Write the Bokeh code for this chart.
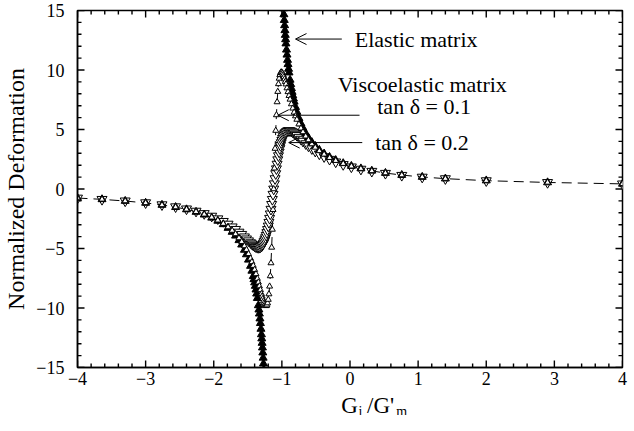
from bokeh.plotting import figure
from bokeh.models import FixedTicker, Label, Arrow, OpenHead
from bokeh.layouts import column
from bokeh.embed import file_html
from bokeh.resources import INLINE

# ---------------- data ----------------
x_ticks = [-4, -3, -2, -1, 0, 1, 2, 3, 4]
y_ticks = [-15, -10, -5, 0, 5, 10, 15]

# elastic matrix (filled triangles)
x_elastic = [-4.00, -3.64, -3.30, -3.00, -2.76, -2.56, -2.40, -2.26, -2.14, -2.03,
             -1.94, -1.86, -1.79, -1.73, -1.68, -1.63, -1.59, -1.55, -1.52, -1.49,
             -1.46, -1.44, -1.42, -1.41, -1.40, -1.39, -1.38, -1.37, -1.36, -1.345,
             -1.337, -1.33, -1.322, -1.315, -1.307, -1.30, -1.295, -1.29, -1.285, -1.28,
             -1.275, -1.27, -1.265, -1.26,
             -0.98, -0.975, -0.97, -0.965, -0.96, -0.955, -0.95, -0.945, -0.94, -0.932,
             -0.925, -0.917, -0.91, -0.902, -0.895, -0.88, -0.87, -0.86, -0.85, -0.84,
             -0.83, -0.82, -0.80, -0.78, -0.75, -0.72, -0.69, -0.65, -0.61, -0.56,
             -0.51, -0.45, -0.38, -0.30, -0.21, -0.10, 0.02, 0.16, 0.32, 0.52,
             0.76, 1.06, 1.40, 2.00, 2.90, 4.00]
y_elastic = [-0.76, -0.87, -1.01, -1.17, -1.34, -1.53, -1.72, -1.93, -2.16, -2.42,
             -2.68, -2.97, -3.28, -3.61, -3.93, -4.31, -4.68, -5.12, -5.50, -5.95,
             -6.47, -6.88, -7.33, -7.59, -7.86, -8.15, -8.46, -8.80, -9.17, -9.78,
             -10.14, -10.48, -10.89, -11.28, -11.76, -12.22, -12.57, -12.94, -13.33, -13.75,
             -14.19, -14.67, -15.17, -15.71,
             15.71, 15.17, 14.67, 14.19, 13.75, 13.33, 12.94, 12.57, 12.22, 11.70,
             11.28, 10.84, 10.48, 10.09, 9.78, 9.17, 8.80, 8.46, 8.15, 7.86,
             7.59, 7.33, 6.88, 6.47, 5.95, 5.50, 5.12, 4.68, 4.31, 3.93,
             3.61, 3.28, 2.97, 2.68, 2.42, 2.16, 1.93, 1.72, 1.53, 1.34,
             1.17, 1.01, 0.87, 0.71, 0.55, 0.43]

# viscoelastic matrix, common abscissae
x_visc = [-4.00, -3.64, -3.30, -3.00, -2.76, -2.56, -2.40, -2.26, -2.14, -2.03,
          -1.94, -1.86, -1.79, -1.73, -1.68, -1.63, -1.59, -1.55, -1.52, -1.49,
          -1.46, -1.44, -1.42, -1.40, -1.38, -1.36, -1.345, -1.33, -1.315, -1.30,
          -1.29, -1.28, -1.27, -1.26, -1.25, -1.24, -1.23, -1.22, -1.21, -1.20,
          -1.19, -1.18, -1.17, -1.16, -1.15, -1.14, -1.13, -1.12, -1.11, -1.10,
          -1.09, -1.08, -1.07, -1.06, -1.05, -1.04, -1.03, -1.02, -1.01, -1.00,
          -0.99, -0.98, -0.97, -0.96, -0.95, -0.94, -0.925, -0.91, -0.895, -0.88,
          -0.86, -0.84, -0.82, -0.80, -0.78, -0.75, -0.72, -0.69, -0.65, -0.61,
          -0.56, -0.51, -0.45, -0.38, -0.30, -0.21, -0.10, 0.02, 0.16, 0.32,
          0.52, 0.76, 1.06, 1.40, 2.00, 2.90, 4.00]
# tan delta = 0.1 (small open triangles)
y_tan01 = [-0.76, -0.87, -1.01, -1.17, -1.34, -1.52, -1.71, -1.91, -2.13, -2.38,
           -2.63, -2.91, -3.20, -3.49, -3.78, -4.12, -4.43, -4.79, -5.10, -5.45,
           -5.84, -6.13, -6.44, -6.78, -7.14, -7.53, -7.84, -8.16, -8.48, -8.81,
           -9.02, -9.23, -9.42, -9.58, -9.71, -9.80, -9.82, -9.76, -9.59, -9.29,
           -8.83, -8.18, -7.31, -6.22, -4.91, -3.40, -1.74, 0.00, 1.74, 3.40,
           4.91, 6.22, 7.31, 8.18, 8.83, 9.29, 9.59, 9.76, 9.82, 9.80,
           9.71, 9.58, 9.42, 9.23, 9.02, 8.81, 8.48, 8.16, 7.84, 7.53,
           7.14, 6.78, 6.44, 6.13, 5.84, 5.45, 5.10, 4.79, 4.43, 4.12,
           3.78, 3.49, 3.20, 2.91, 2.63, 2.38, 2.13, 1.91, 1.71, 1.52,
           1.34, 1.17, 1.01, 0.87, 0.70, 0.55, 0.43]
# tan delta = 0.2 (open inverted triangles)
y_tan02 = [-0.76, -0.87, -1.00, -1.15, -1.32, -1.49, -1.67, -1.86, -2.06, -2.28,
           -2.50, -2.72, -2.95, -3.18, -3.39, -3.62, -3.81, -4.02, -4.19, -4.35,
           -4.51, -4.61, -4.71, -4.79, -4.86, -4.90, -4.91, -4.90, -4.86, -4.80,
           -4.73, -4.65, -4.54, -4.41, -4.26, -4.09, -3.89, -3.66, -3.40, -3.11,
           -2.80, -2.46, -2.09, -1.70, -1.29, -0.87, -0.44, 0.00, 0.44, 0.87,
           1.29, 1.70, 2.09, 2.46, 2.80, 3.11, 3.40, 3.66, 3.89, 4.09,
           4.26, 4.41, 4.54, 4.65, 4.73, 4.80, 4.86, 4.90, 4.91, 4.90,
           4.86, 4.79, 4.71, 4.61, 4.51, 4.35, 4.19, 4.02, 3.81, 3.62,
           3.39, 3.18, 2.95, 2.72, 2.50, 2.28, 2.06, 1.86, 1.67, 1.49,
           1.32, 1.15, 1.00, 0.87, 0.70, 0.55, 0.43]

# ---------------- figure ----------------
FONT = "Liberation Serif"
FW, FH = 545, 357
X0, X1, Y0, Y1 = -4, 4, -15, 15
BL, BR = 68, 12

p = figure(frame_width=FW, frame_height=FH, x_range=(X0, X1), y_range=(Y0, Y1),
           output_backend="svg", toolbar_location=None,
           min_border_left=BL, min_border_right=BR, min_border_top=10, min_border_bottom=25)
p.xgrid.visible = False
p.ygrid.visible = False
p.outline_line_color = "black"
p.outline_line_width = 1.5
p.background_fill_color = "white"
p.border_fill_color = "white"

for ax in (p.xaxis[0], p.yaxis[0]):
    ax.axis_line_color = "black"
    ax.axis_line_width = 1.5
    ax.major_tick_in = 0
    ax.major_tick_out = 0
    ax.minor_tick_in = 0
    ax.minor_tick_out = 0
    ax.major_label_text_font = FONT
    ax.major_label_text_font_size = "18px"
    ax.major_label_text_color = "black"

p.xaxis.ticker = FixedTicker(ticks=x_ticks)
p.yaxis.ticker = FixedTicker(ticks=y_ticks)
p.xaxis.major_label_standoff = 4
p.yaxis.major_label_standoff = 13

p.yaxis.axis_label = "Normalized Deformation"
p.yaxis.axis_label_text_font = FONT
p.yaxis.axis_label_text_font_size = "24px"
p.yaxis.axis_label_text_font_style = "normal"
p.yaxis.axis_label_text_color = "black"
p.yaxis.axis_label_standoff = 4

# inward ticks on all four sides, drawn in the frame
px_x = (X1 - X0) / FW   # data units per pixel, x
px_y = (Y1 - Y0) / FH   # data units per pixel, y
x_minor = [round(X0 + 0.2 * i, 2) for i in range(41)]
y_minor = list(range(Y0, Y1 + 1))
MAJ, MIN = 7, 4
sx0, sy0, sx1, sy1 = [], [], [], []
for xv in x_minor:
    L = MAJ if xv in x_ticks else MIN
    sx0 += [xv, xv]; sx1 += [xv, xv]
    sy0 += [Y0, Y1]; sy1 += [Y0 + L * px_y, Y1 - L * px_y]
for yv in y_minor:
    L = MAJ if yv in y_ticks else MIN
    sy0 += [yv, yv]; sy1 += [yv, yv]
    sx0 += [X0, X1]; sx1 += [X0 + L * px_x, X1 - L * px_x]
p.segment(sx0, sy0, sx1, sy1, line_color="black", line_width=1.4)

# ---------------- data glyphs ----------------
p.line(x_visc, y_tan01, line_color="black", line_width=1, line_dash="10 6")
p.scatter(x_visc, y_tan02, marker="inverted_triangle", size=10,
          line_color="black", fill_color="white", line_width=1)
p.scatter(x_elastic, y_elastic, marker="triangle", size=8,
          line_color="black", fill_color="black", line_width=1)
p.scatter(x_visc, y_tan01, marker="triangle", size=6,
          line_color="black", fill_color="white", line_width=1)

# ---------------- annotations ----------------
def txt(x, y, s, size="22px"):
    p.add_layout(Label(x=x, y=y, text=s, text_font=FONT, text_font_size=size,
                       text_color="black", text_baseline="middle", text_align="left"))


txt(0.07, 12.6, "Elastic matrix")
txt(-0.18, 8.8, "Viscoelastic matrix")
txt(0.40, 6.9, "tan \u03b4 = 0.1")
txt(0.37, 3.9, "tan \u03b4 = 0.2")

for xs, xe, yy in [(-0.12, -0.80, 12.6), (0.14, -1.06, 6.2), (0.18, -0.90, 3.9)]:
    p.add_layout(Arrow(x_start=xs, y_start=yy, x_end=xe, y_end=yy,
                       line_color="black", line_width=1,
                       end=OpenHead(size=11, line_color="black", line_width=1)))

# ---------------- x-axis title  G_i /G'_m : a transparent strip below ----------------
H2 = 53
t = figure(frame_width=FW, frame_height=H2, x_range=(X0, X1), y_range=(0, H2),
           output_backend="svg", toolbar_location=None,
           x_axis_location=None, y_axis_location=None,
           min_border_left=BL, min_border_right=BR, min_border_top=0, min_border_bottom=0,
           margin=(-30, 0, 0, 0))
t.xgrid.visible = False
t.ygrid.visible = False
t.outline_line_color = None
t.background_fill_color = None
t.border_fill_color = None


def xl(x, y, s, size):
    t.add_layout(Label(x=x, y=y, text=s, text_font=FONT, text_font_size=size,
                       text_color="black", text_baseline="alphabetic", text_align="left"))


xl(-0.13, 10.5, "G", "23px")
xl(0.125, 3.9, "i", "14px")
xl(0.25, 10.5, "/G'", "23px")
xl(0.68, 3.9, "m", "14px")

layout = column(p, t)
open("out.html", "w").write(file_html(layout, INLINE))
